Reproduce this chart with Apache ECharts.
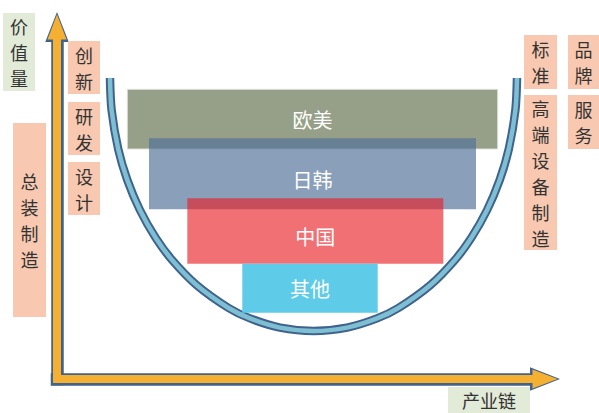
<!DOCTYPE html>
<html>
<head>
<meta charset="utf-8">
<script src="https://cdn.jsdelivr.net/npm/echarts@6/dist/echarts.min.js"></script>
<style>html,body{margin:0;padding:0;background:#fff}#c{width:599px;height:413px}</style>
</head>
<body>
<div id="c"></div>
<script>
// ---- data ----
var regions = ['欧美', '日韩', '中国', '其他'];
var barStart = [70.3, 92, 130.3, 185.3];
var barEnd = [440.7, 419, 386.3, 320.7];
var barTop = [289.7, 240.7, 180.7, 115.3];
var barBottom = [230, 169.7, 115.3, 66.3];
var curveX = [53, 54.6, 61.2, 70.3, 82.9, 98.8, 115.1, 139.5, 171.6, 193, 223, 256.5, 290, 320, 341.4, 373.5, 397.9, 414.2, 430.1, 442.7, 451.8, 458.4, 460];
var curveY = [301, 269, 230, 199, 169, 141, 119, 94, 71, 60.6, 51.4, 48, 51.4, 60.6, 71, 94, 119, 141, 169, 199, 230, 269, 301];
var yAxisName = '价值量';
var xAxisName = '产业链';
var leftNotes = ['总装制造', '创新', '研发', '设计'];
var rightNotes = ['标准', '高端设备制造', '品牌', '服务'];

// ---- styles / layout ----
var barColors = ['#969f87', 'rgba(83,114,154,0.68)', 'rgba(231,32,38,0.64)', '#5ecbe8'];
var FONT = '"Noto Sans CJK SC", "Noto Sans", sans-serif';
var peach = '#f8c9b0', pale = '#e2ead8';
var STEP = 26, FS = 18;

var bars = regions.map(function (n, i) { return [barStart[i], barEnd[i], barTop[i], barBottom[i], i]; });
var curve = curveX.map(function (x, i) { return [x, curveY[i]]; });

function box(x, y, w, h, fill, text) {
  var els = [{ type: 'rect', shape: { x: x, y: y, width: w, height: h }, style: { fill: fill }, z: 5 }];
  var chars = text.split('');
  var cy = y + h / 2 - (chars.length - 1) * STEP / 2;
  chars.forEach(function (ch, k) {
    els.push({ type: 'text', x: x + w / 2, y: cy + k * STEP, z: 6,
      style: { text: ch, align: 'center', verticalAlign: 'middle', font: FS + 'px ' + FONT, fill: '#333' } });
  });
  return els;
}
var graphics = [].concat(
  box(3, 13, 32, 78, pale, yAxisName),
  box(13, 123, 33, 194, peach, leftNotes[0]),
  box(68, 41, 32, 53, peach, leftNotes[1]),
  box(68, 102, 32, 53, peach, leftNotes[2]),
  box(68, 162, 32, 53, peach, leftNotes[3]),
  box(524, 35, 33, 54, peach, rightNotes[0]),
  box(524, 95, 33, 155, peach, rightNotes[1]),
  box(568, 35, 31, 54, peach, rightNotes[2]),
  box(568, 95, 31, 54, peach, rightNotes[3]),
  [
    { type: 'rect', shape: { x: 448, y: 387, width: 82, height: 26 }, style: { fill: pale }, z: 5 },
    { type: 'text', x: 489, y: 400, z: 6, style: { text: xAxisName, align: 'center', verticalAlign: 'middle', font: FS + 'px ' + FONT, fill: '#333' } }
  ]
);

var XMAX = 479, YMAX = 343;
function axisX(color, w, sym, z) {
  return { type: 'value', position: 'bottom', min: 0, max: XMAX, z: z,
    axisLine: { show: true, symbol: ['none', 'triangle'], symbolSize: sym, symbolOffset: [0, 9],
      lineStyle: { color: color, width: w, cap: 'square' } },
    axisTick: { show: false }, axisLabel: { show: false }, splitLine: { show: false } };
}
function axisY(color, w, sym, z) {
  return { type: 'value', position: 'left', min: 0, max: YMAX, z: z,
    axisLine: { show: true, symbol: ['none', 'triangle'], symbolSize: sym, symbolOffset: [0, 9],
      lineStyle: { color: color, width: w, cap: 'square' } },
    axisTick: { show: false }, axisLabel: { show: false }, splitLine: { show: false } };
}

var chart = echarts.init(document.getElementById('c'), null, { renderer: 'svg' });
chart.setOption({
  animation: false,
  grid: { left: 57, right: 63, top: 36, bottom: 34 },
  xAxis: [axisX('#40628f', 12.5, [23.5, 30], 1), axisX('#f5b031', 8, [19, 25], 2)],
  yAxis: [axisY('#40628f', 12.5, [23.5, 30], 1), axisY('#f5b031', 8, [19, 25], 2)],
  graphic: graphics,
  series: [
    { type: 'line', data: curve, smooth: 0.3, symbol: 'none', z: 3,
      lineStyle: { color: '#40628f', width: 8.5 } },
    { type: 'line', data: curve, smooth: 0.3, symbol: 'none', z: 4,
      lineStyle: { color: '#7ec0d1', width: 4.5 } },
    { type: 'custom', data: bars, z: 5,
      renderItem: function (params, api) {
        var i = api.value(4);
        var p0 = api.coord([api.value(0), api.value(2)]);
        var p1 = api.coord([api.value(1), api.value(3)]);
        var visTop = i > 0 ? Math.min(api.value(2), barBottom[i - 1]) : api.value(2);
        var mid = api.coord([(api.value(0) + api.value(1)) / 2, (visTop + api.value(3)) / 2]);
        return { type: 'group', children: [
          { type: 'rect', shape: { x: p0[0], y: p0[1], width: p1[0] - p0[0], height: p1[1] - p0[1] },
            style: { fill: barColors[i], stroke: i === 0 ? 'rgba(225,228,220,0.9)' : null, lineWidth: 1 } },
          { type: 'text', x: mid[0], y: mid[1],
            style: { text: regions[i], align: 'center', verticalAlign: 'middle', font: '20px ' + FONT, fill: '#fff' } }
        ] };
      }
    }
  ]
});
</script>
</body>
</html>
